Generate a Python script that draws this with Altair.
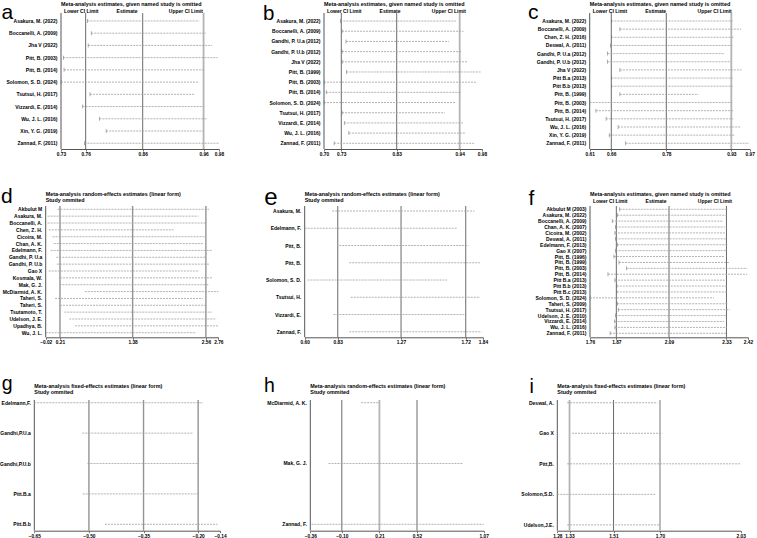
import altair as alt
import pandas as pd

FONT = "Liberation Sans"

# ---------------- data ----------------
a_studies = ["Asakura, M. (2022)", "Boccanelli, A. (2009)", "Jha V (2022)", "Pitt, B. (2003)",
             "Pitt, B. (2014)", "Solomon, S. D. (2024)", "Tsutsui, H. (2017)", "Vizzardi, E. (2014)",
             "Wu, J. L. (2016)", "Xin, Y. G. (2019)", "Zannad, F. (2011)"]
a_lower = [0.768, 0.774, 0.769, 0.729, 0.730, 0.7251, 0.772, 0.760, 0.787, 0.798, 0.763]
a_upper = [0.948, 0.959, 0.969, 0.978, 0.957, 0.948, 0.940, 0.956, 0.960, 0.954, 0.980]
a_axis = [0.7251, 0.7649, 0.8569, 0.9551, 0.9800]

b_studies = ["Asakura, M. (2022)", "Boccanelli, A. (2009)", "Gandhi, P. U.a (2012)", "Gandhi, P. U.b (2012)",
             "Jha V (2022)", "Pitt, B. (1999)", "Pitt, B. (2003)", "Pitt, B. (2014)", "Solomon, S. D. (2024)",
             "Tsutsui, H. (2017)", "Vizzardi, E. (2014)", "Wu, J. L. (2016)", "Zannad, F. (2011)"]
b_lower = [0.729, 0.732, 0.739, 0.732, 0.732, 0.740, 0.700, 0.704, 0.700, 0.732, 0.736, 0.744, 0.718]
b_upper = [0.934, 0.947, 0.921, 0.944, 0.955, 0.979, 0.971, 0.943, 0.934, 0.914, 0.946, 0.951, 0.967]
b_axis = [0.7000, 0.7306, 0.8287, 0.9402, 0.9797]

c_studies = ["Asakura, M. (2022)", "Boccanelli, A. (2009)", "Chen, Z. H. (2016)", "Deswal, A. (2011)",
             "Gandhi, P. U.a (2012)", "Gandhi, P. U.b (2012)", "Jha V (2022)", "Pitt B.a (2013)",
             "Pitt B.b (2013)", "Pitt, B. (1999)", "Pitt, B. (2003)", "Pitt, B. (2014)", "Tsutsui, H. (2017)",
             "Wu, J. L. (2016)", "Xin, Y. G. (2019)", "Zannad, F. (2011)"]
c_lower = [0.659, 0.678, 0.659, 0.657, 0.650, 0.650, 0.678, 0.659, 0.659, 0.678, 0.610, 0.624, 0.647,
           0.674, 0.654, 0.691]
c_upper = [0.932, 0.951, 0.935, 0.931, 0.914, 0.928, 0.952, 0.932, 0.932, 0.855, 0.931, 0.935, 0.933,
           0.951, 0.937, 0.969]
c_axis = [0.6100, 0.6586, 0.7825, 0.9289, 0.9703]

d_studies = ["Akbulut M", "Asakura, M.", "Boccanelli, A.", "Chen, Z. H.", "Cicoira, M.", "Chan, A. K.",
             "Edelmann, F.", "Gandhi, P. U.a", "Gandhi, P. U.b", "Gao X", "Kosmala, W.", "Mak, G. J.",
             "McDiarmid, A. K.", "Taheri, S.", "Taheri, S.", "Tsutamoto, T.", "Udelson, J. E.",
             "Upadhya, B.", "Wu, J. L."]
d_lower = [0.17, 0.01, 0.01, 0.03, 0.09, 0.11, 0.06, 0.15, 0.16, 0.03, 0.21, 0.20, 0.61, 0.13, 0.21,
           0.28, 0.36, 0.45, -0.02]
d_upper = [2.61, 2.44, 2.57, 2.04, 2.55, 2.51, 2.66, 2.55, 2.61, 2.45, 2.66, 2.61, 2.76, 2.51, 2.57,
           2.66, 2.73, 2.76, 2.40]
d_axis = [-0.02, 0.21, 1.38, 2.56, 2.76]

e_studies = ["Asakura, M.", "Edelmann, F.", "Pitt, B.", "Pitt, B.", "Solomon, S. D.", "Tsutsui, H.",
             "Vizzardi, E.", "Zannad, F."]
e_lower = [0.79, 0.60, 0.84, 0.91, 0.62, 0.92, 0.80, 0.91]
e_upper = [1.78, 1.66, 1.74, 1.82, 1.59, 1.82, 1.71, 1.83]
e_axis = [0.60, 0.83, 1.27, 1.72, 1.84]

f_studies = ["Akbulut M (2003)", "Asakura, M. (2022)", "Boccanelli, A. (2009)", "Chan, A. K. (2007)",
             "Cicoira, M. (2002)", "Deswal, A. (2011)", "Edelmann, F. (2013)", "Gao X (2007)",
             "Pitt, B. (1996)", "Pitt, B. (1999)", "Pitt, B. (2003)", "Pitt, B. (2014)", "Pitt B.a (2013)",
             "Pitt B.b (2013)", "Pitt B.c (2013)", "Solomon, S. D. (2024)", "Taheri, S. (2009)",
             "Tsutsui, H. (2017)", "Udelson, J. E. (2010)", "Vizzardi, E. (2014)", "Wu, J. L. (2016)",
             "Zannad, F. (2011)"]
f_lower = [1.884, 1.874, 1.853, 1.867, 1.864, 1.867, 1.874, 1.867, 1.860, 1.881, 1.913, 1.835, 1.864,
           1.872, 1.872, 1.760, 1.874, 1.878, 1.867, 1.863, 1.864, 1.844]
f_upper = [2.336, 2.331, 2.313, 2.323, 2.323, 2.331, 2.334, 2.331, 2.320, 2.344, 2.417, 2.417, 2.323,
           2.331, 2.331, 2.278, 2.336, 2.344, 2.331, 2.320, 2.331, 2.331]
f_axis = [1.76, 1.87, 2.09, 2.33, 2.42]

g_studies = ["Edelmann,F.", "Gandhi,P.U.a", "Gandhi,P.U.b", "Pitt.B.a", "Pitt.B.b"]
g_lower = [-0.650, -0.518, -0.504, -0.517, -0.456]
g_upper = [-0.187, -0.213, -0.200, -0.198, -0.147]
g_axis = [-0.65, -0.50, -0.35, -0.20, -0.14]

h_studies = ["McDiarmid, A. K.", "Mak, G. J.", "Zannad, F."]
h_lower = [0.06, -0.21, -0.35]
h_upper = [0.20, 0.90, 1.07]
h_axis = [-0.36, -0.10, 0.21, 0.52, 1.07]

i_studies = ["Deswal, A.", "Gao X", "Pitt,B.", "Solomon,S.D.", "Udelson,J.E."]
i_lower = [1.32, 1.34, 1.32, 1.28, 1.32]
i_upper = [1.69, 1.71, 2.03, 1.68, 1.70]
i_axis = [1.28, 1.33, 1.51, 1.70, 2.03]

TITLE_OMIT = "Meta-analysis estimates, given named study is omitted"
TITLE_RANDOM = "Meta-analysis random-effects estimates (linear form)"
TITLE_FIXED = "Meta-analysis fixed-effects estimates (linear form)"
SUBTITLE = "Study ommited"
HEADERS = ["Lower CI Limit", "Estimate", "Upper CI Limit"]

# ---------------- styles ----------------
DARK = ("#6a6a6a", 1.0)
MID = ("#939393", 1.4)
LIGHT = ("#b4b4b4", 1.8)
AXIS_COLOR = "#555555"
ONE = pd.DataFrame({"k": [0]})

# panel box sizes (column widths / row heights)
COL_W = [252, 252, 253]
ROW_H = [176, 180, 182]


def text_at(text, x, y, size, align="left", weight="bold", baseline="middle"):
    return alt.Chart(ONE).mark_text(
        text=text, align=align, baseline=baseline, font=FONT, fontSize=size,
        fontWeight=weight, color="black"
    ).encode(x=alt.value(x), y=alt.value(y))


def panel(letter, kind, studies, lower, upper, axis_vals, box, plot, pads, rule_style, text_y, letter_pos):
    """One leave-one-out sensitivity panel drawn inside a box of size `box`.

    plot = (x_left, x_right, y_top, y_bottom) of the plotting region inside the box.
    """
    w, h = box
    xl, xr, yt, yb = plot
    n = len(studies)
    y_dom = [-pads[0], n - 1 + pads[1]]

    df = pd.DataFrame({"row": list(range(n)), "study": studies, "lo": lower, "hi": upper})
    xs = alt.Scale(domain=[axis_vals[0], axis_vals[-1]], range=[xl, xr], nice=False, zero=False)
    ys = alt.Scale(domain=y_dom, range=[yt, yb], nice=False, zero=False)
    xaxis = alt.Axis(values=axis_vals, format=".2f", title=None, grid=False, labelOverlap=False,
                     labelFlush=False, tickSize=2, labelPadding=0.5, offset=-(h - yb))
    y_enc = alt.Y("row:Q", scale=ys, axis=None)

    rdf = pd.DataFrame({"v": axis_vals[1:4],
                        "y0": [y_dom[0]] * 3, "y1": [y_dom[1]] * 3,
                        "c": [s[0] for s in rule_style],
                        "w": [s[1] for s in rule_style]})
    edge = pd.DataFrame({"v": [axis_vals[0]], "y0": [y_dom[0]], "y1": [y_dom[1]]})

    layers = [
        # reference lines at the pooled lower limit, estimate and upper limit
        alt.Chart(rdf).mark_rule().encode(
            x=alt.X("v:Q", scale=xs, axis=xaxis),
            y=alt.Y("y0:Q", scale=ys, axis=None), y2="y1:Q",
            color=alt.Color("c:N", scale=None),
            strokeWidth=alt.StrokeWidth("w:Q", scale=None),
        ),
        # left frame line
        alt.Chart(edge).mark_rule(color=AXIS_COLOR, strokeWidth=1).encode(
            x=alt.X("v:Q", scale=xs, axis=xaxis),
            y=alt.Y("y0:Q", scale=ys, axis=None), y2="y1:Q",
        ),
        # confidence interval of each omitted-study estimate
        alt.Chart(df).mark_rule(color="#a0a0a0", strokeWidth=0.8, strokeDash=[2, 1]).encode(
            x=alt.X("lo:Q", scale=xs, axis=xaxis), x2="hi:Q", y=y_enc
        ),
        # study names
        alt.Chart(df).mark_text(align="right", baseline="middle", font=FONT, fontSize=5,
                                fontWeight="bold", color="black").encode(
            x=alt.value(xl - 3.5), y=y_enc, text="study:N"
        ),
    ]
    if kind == "omit":
        layers.append(alt.Chart(df).mark_tick(color="#707070", size=4, thickness=0.8,
                                              orient="vertical").encode(
            x=alt.X("lo:Q", scale=xs, axis=xaxis), y=y_enc))
        layers.append(text_at(TITLE_OMIT, xl, text_y[0], 5.4))
        layers.append(text_at(HEADERS[0], xl + 3, text_y[1], 5))
        layers.append(text_at(HEADERS[1], xl + 66, text_y[1], 5, align="center"))
        layers.append(text_at(HEADERS[2], xl + 142, text_y[1], 5, align="right"))
    else:
        t1 = TITLE_RANDOM if kind == "random" else TITLE_FIXED
        layers.append(text_at(t1, xl, text_y[0], 5.4))
        layers.append(text_at(SUBTITLE, xl, text_y[1], 5.4))
    layers.append(text_at(letter, letter_pos[0], letter_pos[1], letter_pos[2], weight="normal",
                          baseline="alphabetic"))
    return alt.layer(*layers).properties(width=w, height=h)


pa = panel("a", "omit", a_studies, a_lower, a_upper, a_axis, (COL_W[0], ROW_H[0]),
           (61, 219, 13, 149), (0.65, 0.47), [DARK, DARK, LIGHT], (4.3, 11), (1.5, 18.5, 21))
pb = panel("b", "omit", b_studies, b_lower, b_upper, b_axis, (COL_W[1], ROW_H[0]),
           (72, 230, 13, 149), (0.79, 0.56), [DARK, DARK, LIGHT], (4.3, 11), (11, 20, 20.5))
pc = panel("c", "omit", c_studies, c_lower, c_upper, c_axis, (COL_W[2], ROW_H[0]),
           (85.7, 245.7, 13, 149), (0.98, 0.70), [DARK, DARK, LIGHT], (4.3, 11), (24, 18.5, 21))

pd_ = panel("d", "random", d_studies, d_lower, d_upper, d_axis, (COL_W[0], ROW_H[1]),
            (45.7, 218.3, 30, 161.3), (0.48, 0.67), [MID, MID, MID], (18, 24), (1, 27.3, 21))
pe = panel("e", "random", e_studies, e_lower, e_upper, e_axis, (COL_W[1], ROW_H[1]),
           (52.7, 231, 30, 161.3), (0.29, 0.32), [DARK, DARK, DARK], (18, 24), (12.3, 29, 24))
pf = panel("f", "omit", f_studies, f_lower, f_upper, f_axis, (COL_W[2], ROW_H[1]),
           (86, 244, 30, 161.3), (0.56, 0.68), [DARK, DARK, DARK], (18, 24.7), (24.5, 29, 21))

pg = panel("g", "fixed", g_studies, g_lower, g_upper, g_axis, (COL_W[0], ROW_H[2]),
           (34.3, 220, 44, 174.7), (0.09, 0.21), [MID, MID, MID], (29.7, 36.3), (1.7, 34, 19.5))
ph = panel("h", "random", h_studies, h_lower, h_upper, h_axis, (COL_W[1], ROW_H[2]),
           (58.3, 231.7, 44, 174.7), (0.044, 0.105), [DARK, LIGHT, DARK], (29.7, 36.3), (12, 36.3, 19.5))
pi = panel("i", "fixed", i_studies, i_lower, i_upper, i_axis, (COL_W[2], ROW_H[2]),
           (53.3, 236.7, 44, 174.7), (0.09, 0.19), [LIGHT, DARK, LIGHT], (29.7, 36.3), (25.5, 37.3, 19.5))

chart = alt.vconcat(
    alt.hconcat(pa, pb, pc, spacing=0),
    alt.hconcat(pd_, pe, pf, spacing=0),
    alt.hconcat(pg, ph, pi, spacing=0),
    spacing=0,
).properties(
    padding=0,
    background="white",
).configure_view(stroke=None).configure_axis(
    domainColor=AXIS_COLOR, domainWidth=1, tickColor=AXIS_COLOR, tickWidth=0.8,
    labelFont=FONT, labelFontSize=4.8, labelFontWeight="bold", labelColor="black",
)

chart.save("out.html", embed_options={"renderer": "svg", "actions": False})
